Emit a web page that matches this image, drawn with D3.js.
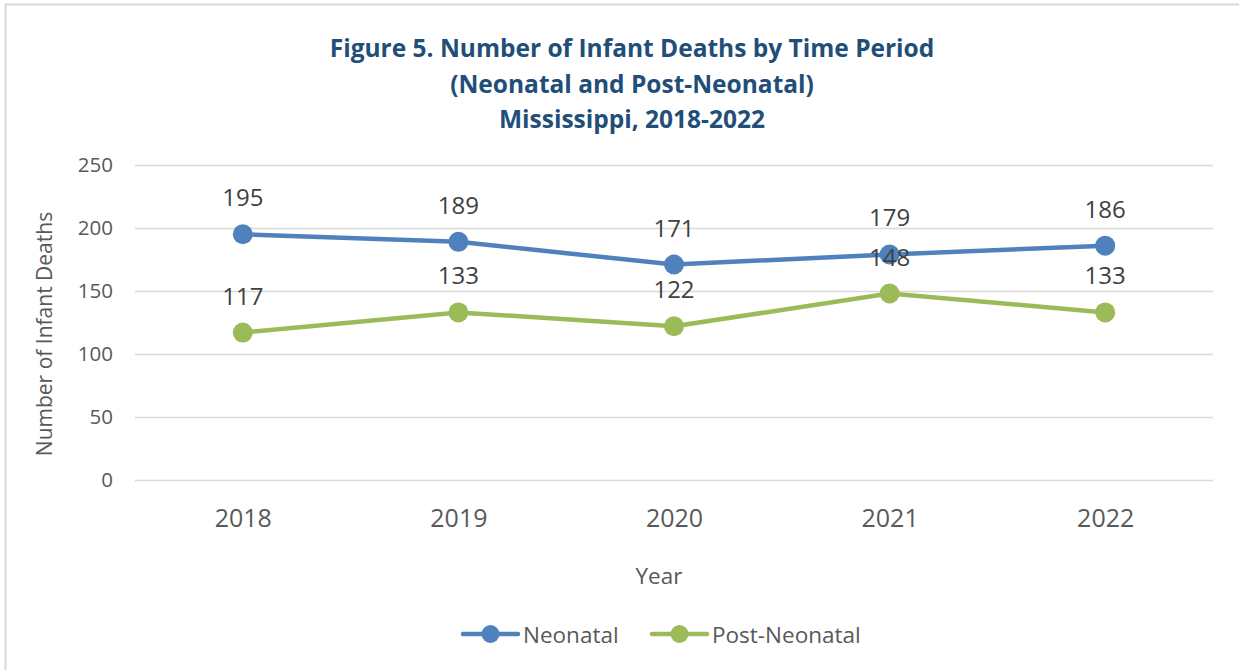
<!DOCTYPE html>
<html>
<head>
<meta charset="utf-8">
<script src="https://cdn.jsdelivr.net/npm/d3@7"></script>
<style>
  html, body { margin: 0; padding: 0; background: #fff; }
  svg { display: block; font-family: "Open Sans", "Noto Sans", sans-serif; }
</style>
</head>
<body>
<svg id="chart" width="1239" height="670"></svg>
<script>
const years = ["2018", "2019", "2020", "2021", "2022"];
const neonatal = [195, 189, 171, 179, 186];
const postNeonatal = [117, 133, 122, 148, 133];
const yTicks = [0, 50, 100, 150, 200, 250];
const titleLines = [
  "Figure 5. Number of Infant Deaths by Time Period",
  "(Neonatal and Post-Neonatal)",
  "Mississippi, 2018-2022"
];
const seriesNames = ["Neonatal", "Post-Neonatal"];
const seriesColors = ["#4F81BD", "#9BBB59"];

const svg = d3.select("#chart");
const plot = { left: 135, right: 1213, top: 165, bottom: 480 };

// outer chart border
svg.append("rect")
  .attr("x", 5.5).attr("y", 4.5)
  .attr("width", 1300).attr("height", 700)
  .attr("fill", "#fff")
  .attr("stroke", "#D9D9D9").attr("stroke-width", 2);

// title
const title = svg.append("g");
const titleY = [57, 93, 128];
titleLines.forEach((t, i) => {
  title.append("text")
    .attr("x", 632).attr("y", titleY[i])
    .attr("text-anchor", "middle")
    .attr("font-size", 24.5)
    .attr("font-weight", "bold")
    .attr("fill", "#1F4E79")
    .text(t);
});

const x = d3.scalePoint().domain(years).range([plot.left, plot.right]).padding(0.5);
const y = d3.scaleLinear().domain([0, 250]).range([plot.bottom, plot.top]);

// y axis with gridlines
const yAxis = svg.append("g")
  .attr("transform", `translate(${plot.left},0)`)
  .call(d3.axisLeft(y).tickValues(yTicks)
    .tickSize(-(plot.right - plot.left)).tickPadding(22));
yAxis.select(".domain").remove();
yAxis.selectAll(".tick line").attr("stroke", "#D9D9D9").attr("stroke-width", 1.5);
yAxis.selectAll(".tick text")
  .attr("font-size", 20.5)
  .attr("font-family", "'Open Sans', sans-serif")
  .attr("fill", "#595959");

// x axis
const xAxis = svg.append("g")
  .attr("transform", `translate(0,${plot.bottom})`)
  .call(d3.axisBottom(x).tickSize(0));
xAxis.select(".domain").remove();
xAxis.selectAll(".tick text")
  .attr("y", 47).attr("dy", 0)
  .attr("font-size", 25)
  .attr("font-family", "'Open Sans', sans-serif")
  .attr("fill", "#595959");

// axis titles
svg.append("text")
  .attr("x", 659).attr("y", 584)
  .attr("text-anchor", "middle")
  .attr("font-size", 22.5)
  .attr("fill", "#595959")
  .text("Year");

svg.append("text")
  .attr("transform", "translate(52,334) rotate(-90)")
  .attr("text-anchor", "middle")
  .attr("font-size", 21)
  .attr("fill", "#595959")
  .text("Number of Infant Deaths");

// series
const series = [neonatal, postNeonatal];
const line = d3.line().x((d, i) => x(years[i])).y(d => y(d));

series.forEach((vals, si) => {
  svg.append("path")
    .datum(vals)
    .attr("d", line)
    .attr("fill", "none")
    .attr("stroke", seriesColors[si])
    .attr("stroke-width", 4.5)
    .attr("stroke-linejoin", "round")
    .attr("stroke-linecap", "round");
  svg.append("g").selectAll("circle")
    .data(vals)
    .join("circle")
    .attr("cx", (d, i) => x(years[i]))
    .attr("cy", d => y(d))
    .attr("r", 10)
    .attr("fill", seriesColors[si]);
});

// data labels on top
series.forEach((vals, si) => {
  svg.append("g").selectAll("text")
    .data(vals)
    .join("text")
    .attr("x", (d, i) => x(years[i]))
    .attr("y", d => y(d) - 28)
    .attr("text-anchor", "middle")
    .attr("font-size", 24)
    .attr("fill", "#404040")
    .text(d => d);
});

// legend
const legendItems = [
  { x0: 463, name: seriesNames[0], color: seriesColors[0] },
  { x0: 652, name: seriesNames[1], color: seriesColors[1] }
];
const ly = 634;
legendItems.forEach(it => {
  const g = svg.append("g");
  g.append("line")
    .attr("x1", it.x0).attr("x2", it.x0 + 55)
    .attr("y1", ly).attr("y2", ly)
    .attr("stroke", it.color).attr("stroke-width", 4.5)
    .attr("stroke-linecap", "round");
  g.append("circle")
    .attr("cx", it.x0 + 27.5).attr("cy", ly).attr("r", 9)
    .attr("fill", it.color);
  g.append("text")
    .attr("x", it.x0 + 60).attr("y", ly + 9)
    .attr("font-size", 22.5)
    .attr("fill", "#595959")
    .text(it.name);
});
</script>
</body>
</html>
